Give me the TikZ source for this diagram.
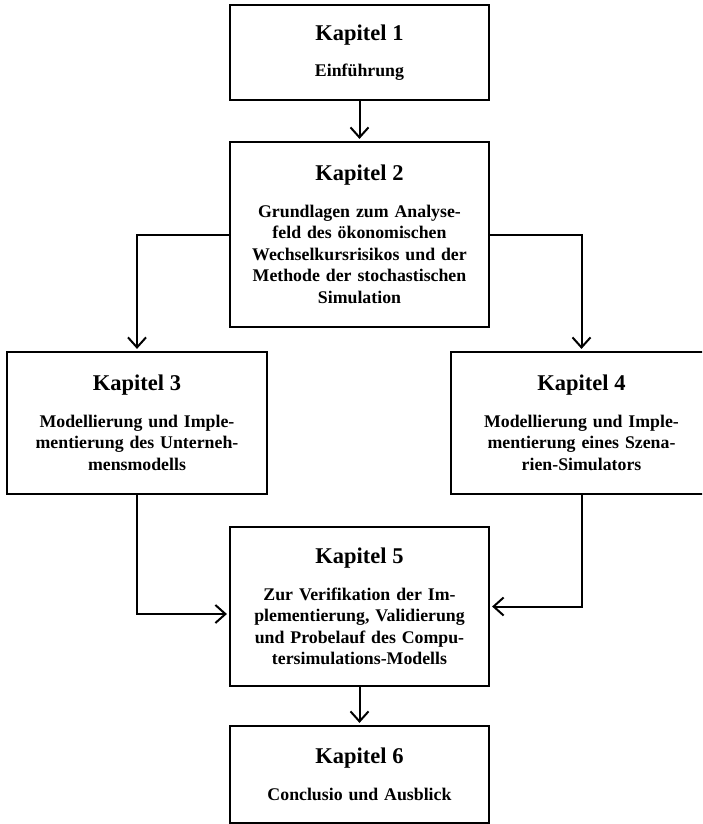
\documentclass[tikz,border=0pt]{standalone}
\usepackage{fontspec}
\setmainfont{Liberation Serif}
\usetikzlibrary{arrows.meta}

\tikzset{
  chapter/.style={draw=black, line width=2.2pt, rectangle, inner sep=0pt,
    text width=250pt, align=center, font=\bfseries\fontsize{17.8}{21.5}\selectfont},
  link/.style={line width=2pt, -{Straight Barb[length=10pt,width=18pt,line width=2pt]},
    shorten >=2pt},
}
\newcommand{\kaptitle}[1]{{\fontsize{22.5}{24}\selectfont #1}\\[15pt]}

\begin{document}
\begin{tikzpicture}[x=1pt, y=-1pt]
  \useasboundingbox (0,0) rectangle (702,824);
  \clip (0,0) rectangle (702,824);

  \node[chapter, minimum width=259pt, minimum height=95pt] (b1) at (359.5,52.5)
    {\kaptitle{Kapitel 1}Einführung};

  \node[chapter, minimum width=259pt, minimum height=185pt] (b2) at (359.5,234.5)
    {\kaptitle{Kapitel 2}Grundlagen zum Analyse-\\feld des ökonomischen\\Wechselkursrisikos und der\\Methode der stochastischen\\Simulation};

  \node[chapter, minimum width=260pt, minimum height=142pt] (b3) at (137,423)
    {\kaptitle{Kapitel 3}Modellierung und Imple-\\mentierung des Unterneh-\\mensmodells};

  \node[chapter, minimum width=261pt, minimum height=142pt] (b4) at (581.5,423)
    {\kaptitle{Kapitel 4}Modellierung und Imple-\\mentierung eines Szena-\\rien-Simulators};

  \node[chapter, minimum width=259pt, minimum height=159pt] (b5) at (359.5,606.5)
    {\kaptitle{Kapitel 5}Zur Verifikation der Im-\\plementierung, Validierung\\und Probelauf des Compu-\\tersimulations-Modells};

  \node[chapter, minimum width=259pt, minimum height=97pt] (b6) at (359.5,774.5)
    {\kaptitle{Kapitel 6}Conclusio und Ausblick};

  % connectors
  \draw[link] (b1) -- (b2);
  \draw[link] (b2.west) -| (b3.north);
  \draw[link] (b2.east) -| (b4.north);
  \draw[link] (b3.south) |- ([yshift=-7.5pt]b5.west);
  \draw[link] (b4.south) |- (b5.east);
  \draw[link] (b5) -- (b6);
\end{tikzpicture}
\end{document}
